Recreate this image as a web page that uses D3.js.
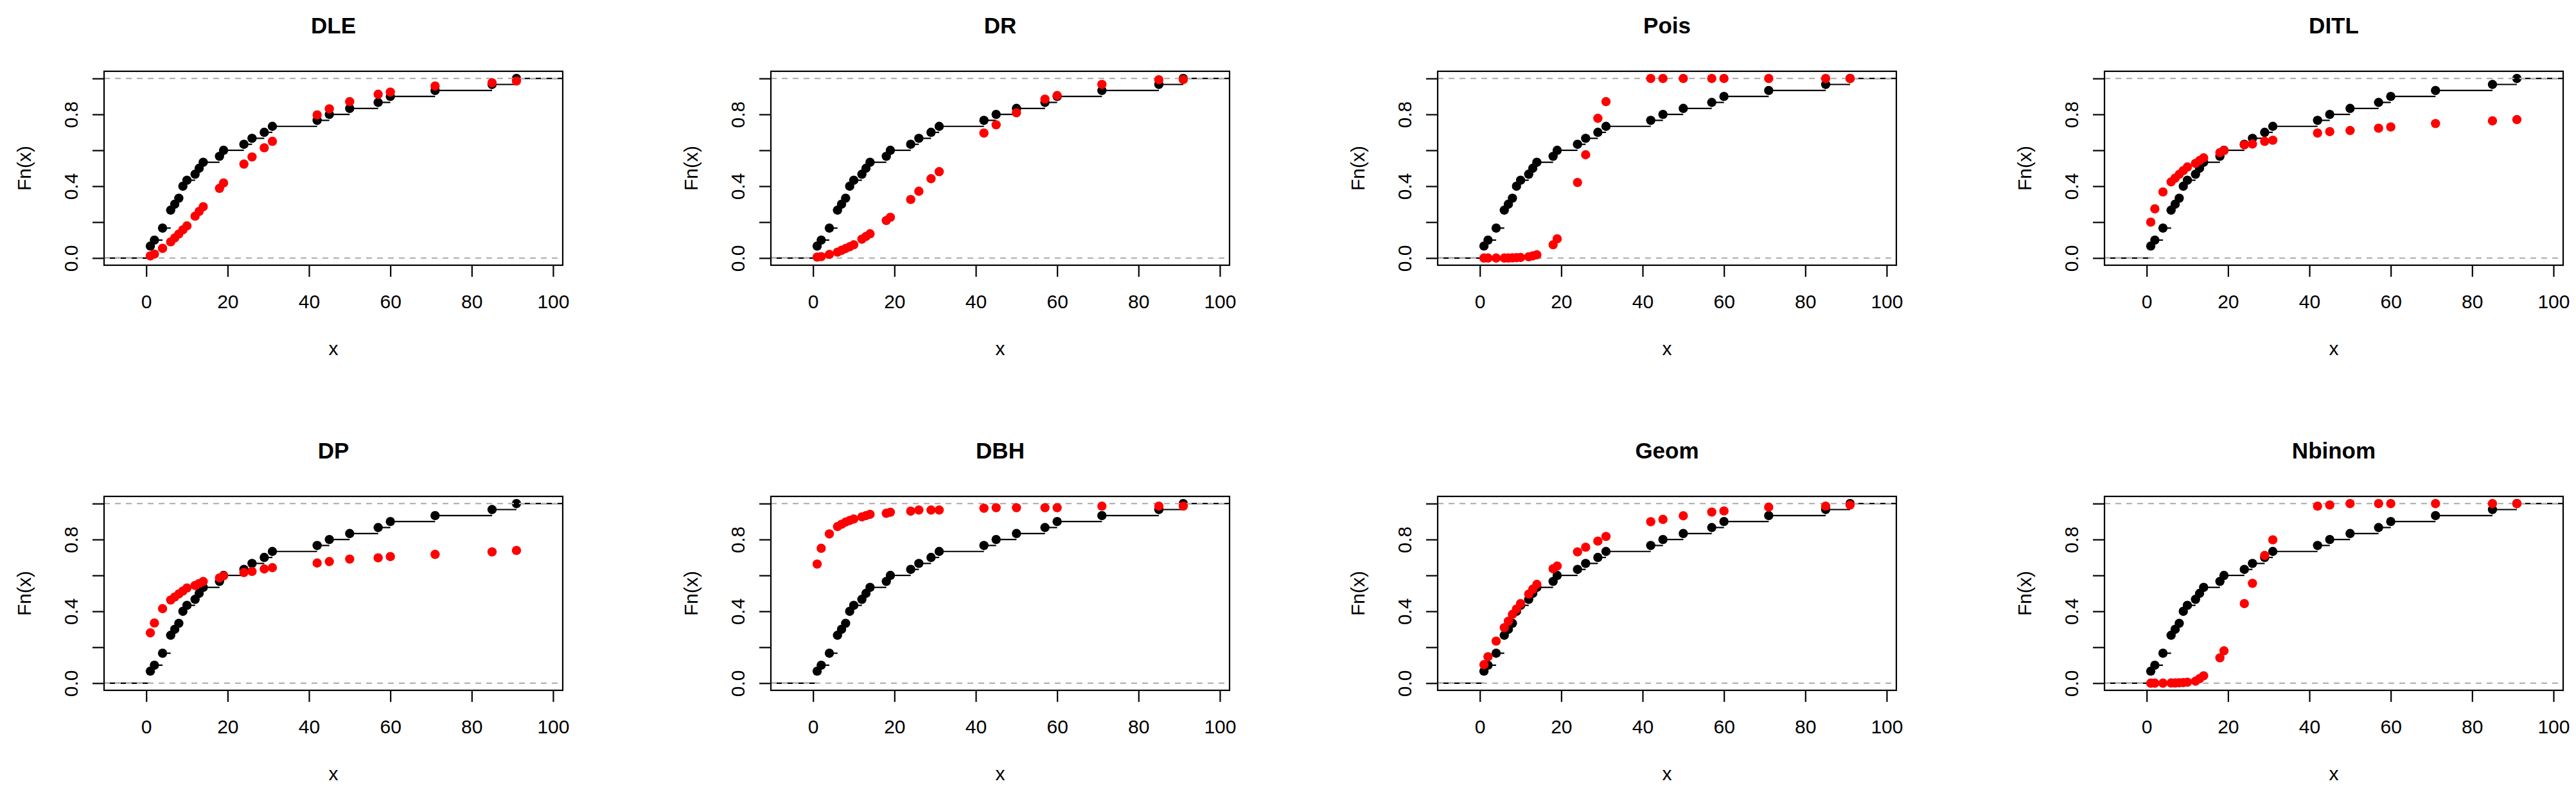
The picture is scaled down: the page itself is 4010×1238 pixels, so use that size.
<!DOCTYPE html>
<html><head><meta charset="utf-8">
<script src="https://cdn.jsdelivr.net/npm/d3@7/dist/d3.min.js"></script>
<style>
body{margin:0;background:#fff}
text{font-family:"Liberation Sans",Arial,Helvetica,sans-serif;fill:#000}
</style>
</head><body>
<script>
// observed sample (n = 30) whose empirical CDF is plotted in black
const sample = [1,1,2,4,4,6,6,6,7,8,9,9,10,12,13,14,18,19,24,26,29,31,42,45,50,57,60,71,85,91];
// distinct observed values (x positions of the red fitted-CDF points)
const knots = [1,2,4,6,7,8,9,10,12,13,14,18,19,24,26,29,31,42,45,50,57,60,71,85,91];

const panelTitles = ["DLE","DR","Pois","DITL","DP","DBH","Geom","Nbinom"];

// fitted CDF values at each knot, one array per model
const fitDLE    = [0.012,0.022,0.054,0.090,0.112,0.134,0.157,0.179,0.233,0.260,0.286,0.388,0.418,0.523,0.563,0.614,0.650,0.797,0.831,0.871,0.912,0.924,0.958,0.976,0.986];
const fitDR     = [0.005,0.008,0.020,0.033,0.043,0.053,0.063,0.074,0.105,0.120,0.135,0.209,0.227,0.326,0.372,0.442,0.481,0.696,0.742,0.809,0.885,0.905,0.967,0.993,0.994];
const fitPois   = [0.000,0.000,0.000,0.000,0.000,0.001,0.002,0.003,0.007,0.012,0.018,0.074,0.107,0.421,0.575,0.778,0.871,1.000,1.000,1.000,1.000,1.000,1.000,1.000,1.000];
const fitDITL   = [0.200,0.274,0.368,0.424,0.445,0.466,0.487,0.507,0.527,0.543,0.558,0.587,0.599,0.630,0.635,0.650,0.656,0.696,0.704,0.710,0.723,0.730,0.749,0.764,0.771];
const fitDP     = [0.280,0.335,0.415,0.463,0.480,0.497,0.513,0.530,0.544,0.555,0.566,0.586,0.598,0.616,0.622,0.636,0.643,0.669,0.677,0.691,0.698,0.705,0.717,0.731,0.739];
const fitDBH    = [0.663,0.751,0.831,0.872,0.885,0.897,0.906,0.914,0.926,0.933,0.940,0.946,0.952,0.958,0.964,0.964,0.964,0.974,0.977,0.977,0.977,0.977,0.986,0.986,0.986];
const fitGeom   = [0.103,0.147,0.234,0.309,0.345,0.383,0.413,0.443,0.496,0.523,0.550,0.637,0.652,0.731,0.757,0.791,0.817,0.899,0.912,0.932,0.953,0.959,0.980,0.986,0.992];
const fitNbinom = [0.000,0.000,0.000,0.001,0.001,0.002,0.003,0.005,0.011,0.025,0.041,0.141,0.180,0.443,0.556,0.711,0.798,0.986,0.992,1.000,1.000,1.000,1.000,1.000,1.000];
const fits = [fitDLE, fitDR, fitPois, fitDITL, fitDP, fitDBH, fitGeom, fitNbinom];

const xTicks = [0,20,40,60,80,100];
const yTicks = [0,0.2,0.4,0.6,0.8,1];
const yTickLabels = ["0.0","","0.4","","0.8",""];

// ---------- layout ----------
const W = 4010, H = 1238;
const colStep = 1038, rowStep = 662;
const box0L = 162, box0T = 111, boxW = 714, boxH = 302;
const ptR = 7.2;

const svg = d3.select("body").append("svg")
  .attr("width", W).attr("height", H)
  .attr("viewBox", `0 0 ${W} ${H}`);
svg.append("rect").attr("width", W).attr("height", H).attr("fill", "#fff");

// x limits as in R's plot.stepfun (+4% axis extension)
const rx = d3.extent(knots);
const diffs = d3.pairs(knots, (a,b) => b - a);
const dr = Math.max(0.08*(rx[1]-rx[0]), d3.median(diffs));
const xl = [rx[0]-dr, rx[1]+dr];
const xext = 0.04*(xl[1]-xl[0]);
const xDomain = [xl[0]-xext, xl[1]+xext];
const yDomain = [-0.04, 1.04];

const n = sample.length;
const Fn = v => sample.filter(s => s <= v).length / n;
const ecdfVals = knots.map(Fn);

panelTitles.forEach((title, p) => {
  const col = p % 4, row = Math.floor(p / 4);
  const L = box0L + col*colStep, T = box0T + row*rowStep;
  const x = d3.scaleLinear().domain(xDomain).range([L, L+boxW]);
  const y = d3.scaleLinear().domain(yDomain).range([T+boxH, T]);
  const g = svg.append("g");

  const cid = "clip"+p;
  svg.append("clipPath").attr("id", cid).append("rect")
    .attr("x", L).attr("y", T).attr("width", boxW).attr("height", boxH);
  const pg = g.append("g").attr("clip-path", `url(#${cid})`);

  // step function horizontal segments
  const far = 1000;
  const segs = [];
  segs.push({x0: xDomain[0]-far, x1: knots[0], v: 0});
  knots.forEach((k,i) => {
    const nxt = i < knots.length-1 ? knots[i+1] : xDomain[1]+far;
    segs.push({x0: k, x1: nxt, v: ecdfVals[i]});
  });
  pg.selectAll("line.seg").data(segs).join("line").attr("class","seg")
    .attr("x1", d => x(d.x0)).attr("x2", d => x(d.x1))
    .attr("y1", d => y(d.v)).attr("y2", d => y(d.v))
    .attr("stroke", "#000").attr("stroke-width", 2.2);

  // ecdf points
  pg.selectAll("circle.ec").data(knots).join("circle").attr("class","ec")
    .attr("cx", d => x(d)).attr("cy", (d,i) => y(ecdfVals[i]))
    .attr("r", ptR).attr("fill", "#000");

  // 0 / 1 reference lines
  pg.selectAll("line.ref").data([0,1]).join("line").attr("class","ref")
    .attr("x1", L).attr("x2", L+boxW)
    .attr("y1", d => y(d)).attr("y2", d => y(d))
    .attr("stroke", "#b3b3b3").attr("stroke-width", 2.2)
    .attr("stroke-dasharray", "9,8");

  // fitted CDF points
  pg.selectAll("circle.fit").data(fits[p]).join("circle").attr("class","fit")
    .attr("cx", (d,i) => x(knots[i])).attr("cy", d => y(d))
    .attr("r", ptR).attr("fill", "#ff0000");

  // box
  g.append("rect").attr("x", L).attr("y", T).attr("width", boxW).attr("height", boxH)
    .attr("fill", "none").attr("stroke", "#000").attr("stroke-width", 2.2);

  // x axis
  const xa = g.append("g").attr("transform", `translate(0,${T+boxH})`)
    .call(d3.axisBottom(x).tickValues(xTicks).tickSize(18).tickPadding(28).tickFormat(d3.format("d")));
  xa.select(".domain").remove();
  xa.selectAll(".tick line").attr("stroke", "#000").attr("stroke-width", 2.2);
  xa.selectAll(".tick text").attr("font-size", 30).attr("fill", "#000")
    .style("font-family", '"Liberation Sans",Arial,sans-serif');

  // y axis
  const ya = g.append("g").attr("transform", `translate(${L},0)`)
    .call(d3.axisLeft(y).tickValues(yTicks).tickSize(18).tickFormat((d,i) => yTickLabels[i]));
  ya.select(".domain").remove();
  ya.selectAll(".tick line").attr("stroke", "#000").attr("stroke-width", 2.2);
  ya.selectAll(".tick text").attr("font-size", 30).attr("fill", "#000")
    .style("font-family", '"Liberation Sans",Arial,sans-serif')
    .attr("x", null).attr("dy", null).attr("y", null)
    .attr("text-anchor", "middle")
    .attr("transform", "translate(-41,0) rotate(-90)");

  // title
  g.append("text").attr("x", L + boxW/2).attr("y", T - 59)
    .attr("text-anchor", "middle").attr("font-size", 35).attr("font-weight", "bold")
    .text(title);
  // x label
  g.append("text").attr("x", L + boxW/2).attr("y", T + 442)
    .attr("text-anchor", "middle").attr("font-size", 30).text("x");
  // y label
  g.append("text").attr("transform", `translate(${L-114.5},${T+boxH/2}) rotate(-90)`)
    .attr("text-anchor", "middle").attr("font-size", 30).text("Fn(x)");
});
</script>
</body></html>
